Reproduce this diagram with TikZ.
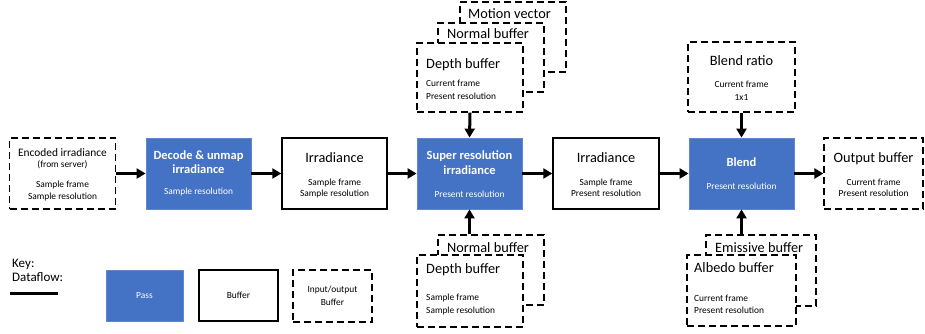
\documentclass[tikz,border=0pt]{standalone}
\usepackage{fontspec}
\setmainfont{Carlito}
\usetikzlibrary{arrows.meta,positioning}
\definecolor{passblue}{HTML}{4472C4}
\tikzset{
  box/.style={draw=black, line width=1.4pt, fill=white, inner sep=0pt},
  iobox/.style={draw=black, line width=1.3pt, dash pattern=on 7pt off 4pt, fill=white, inner sep=0pt},
  passbox/.style={draw=passblue!85!white, line width=0.8pt, fill=passblue, inner sep=0pt},
  flow/.style={line width=3pt, -{Triangle[length=9pt,width=10pt]}},
  ttl/.style={font=\fontsize{14.3}{16}\selectfont, inner sep=0pt, anchor=base},
  ttlsmall/.style={font=\fontsize{11.4}{13}\selectfont, inner sep=0pt, anchor=base},
  sml/.style={font=\fontsize{9.4}{11}\selectfont, inner sep=0pt, anchor=base, align=center},
  bld/.style={font=\fontsize{12.5}{14.5}\selectfont\bfseries, text=white, inner sep=0pt, anchor=base, align=center},
  wsml/.style={font=\fontsize{9.4}{11}\selectfont, text=white, inner sep=0pt, anchor=base},
}
\begin{document}
\begin{tikzpicture}[x=1pt,y=-1pt]
\useasboundingbox (0,0) rectangle (925,333);

% ---------- main row ----------
\node[iobox, minimum width=106pt, minimum height=71pt] (enc) at (62.5,173.5) {};
\node[ttlsmall] (encT) at (62.5,156) {Encoded irradiance};
\node[sml] (encF) at (62.5,167) {(from server)};
\node[sml] (encS1) at (62.5,187) {Sample frame};
\node[sml] (encS2) at (62.5,199) {Sample resolution};

\node[passbox, minimum width=105pt, minimum height=71pt] (dec) at (198.5,173.5) {};
\node[bld] (decT1) at (198.5,159) {Decode \& unmap};
\node[bld] (decT2) at (198.5,173.5) {irradiance};
\node[wsml] (decS) at (198.5,194) {Sample resolution};

\node[box, minimum width=105pt, minimum height=71pt] (irr1) at (334.5,173.5) {};
\node[ttl] (irr1T) at (334.5,162) {Irradiance};
\node[sml] (irr1S1) at (334.5,185) {Sample frame};
\node[sml] (irr1S2) at (334.5,196.5) {Sample resolution};

\node[passbox, minimum width=105pt, minimum height=71pt] (sr) at (469.5,173.5) {};
\node[bld] (srT1) at (469.5,159) {Super resolution};
\node[bld] (srT2) at (469.5,174) {irradiance};
\node[wsml] (srS) at (469.5,197) {Present resolution};

\node[box, minimum width=106pt, minimum height=71pt] (irr2) at (606,173.5) {};
\node[ttl] (irr2T) at (606,162) {Irradiance};
\node[sml] (irr2S1) at (606,185) {Sample frame};
\node[sml] (irr2S2) at (606,196.5) {Present resolution};

\node[passbox, minimum width=105pt, minimum height=71pt] (bl) at (741.5,173.5) {};
\node[bld] (blT) at (741.5,166) {Blend};
\node[wsml] (blS) at (741.5,189) {Present resolution};

\node[iobox, minimum width=99pt, minimum height=71pt] (out) at (873.5,173.5) {};
\node[ttl] (outT) at (873.5,162) {Output buffer};
\node[sml] (outS1) at (873.5,185) {Current frame};
\node[sml] (outS2) at (873.5,196.5) {Present resolution};

% ---------- top stack ----------
\node[iobox, minimum width=106pt, minimum height=70pt] (mv) at (513,37) {};
\node[ttl, anchor=base west] (mvT) at (468,18) {Motion vector};
\node[iobox, minimum width=106pt, minimum height=69pt] (nbt) at (491,57.5) {};
\node[ttl, anchor=base west] (nbtT) at (447,38) {Normal buffer};
\node[iobox, minimum width=106pt, minimum height=69pt] (dbt) at (470,77.5) {};
\node[ttl, anchor=base west] (dbtT) at (426,68) {Depth buffer};
\node[sml, anchor=base west] (dbtS1) at (426,86) {Current frame};
\node[sml, anchor=base west] (dbtS2) at (426,99) {Present resolution};

% ---------- bottom stack ----------
\node[iobox, minimum width=106pt, minimum height=70pt] (nbb) at (491,270) {};
\node[ttl, anchor=base west] (nbbT) at (447,252) {Normal buffer};
\node[iobox, minimum width=106pt, minimum height=72pt] (dbb) at (470,291) {};
\node[ttl, anchor=base west] (dbbT) at (426,273) {Depth buffer};
\node[sml, anchor=base west] (dbbS1) at (426,300) {Sample frame};
\node[sml, anchor=base west] (dbbS2) at (426,313) {Sample resolution};

% ---------- blend inputs ----------
\node[iobox, minimum width=107pt, minimum height=70pt] (br) at (741.5,77) {};
\node[ttl] (brT) at (741.5,65) {Blend ratio};
\node[sml] (brS1) at (741.5,87) {Current frame};
\node[sml] (brS2) at (741.5,100) {1x1};

\node[iobox, minimum width=110pt, minimum height=71pt] (em) at (761,270.5) {};
\node[ttl, anchor=base west] (emT) at (715,252) {Emissive buffer};
\node[iobox, minimum width=109pt, minimum height=71pt] (al) at (741.5,290.5) {};
\node[ttl, anchor=base west] (alT) at (694,272) {Albedo buffer};
\node[sml, anchor=base west] (alS1) at (694,301) {Current frame};
\node[sml, anchor=base west] (alS2) at (694,313) {Present resolution};

% ---------- connectors ----------
\draw[flow] (enc.east) -- (dec.west);
\draw[flow] (dec.east) -- (irr1.west);
\draw[flow] (irr1.east) -- (sr.west);
\draw[flow] (sr.east) -- (irr2.west);
\draw[flow] (irr2.east) -- (bl.west);
\draw[flow] (bl.east) -- (out.west);
\draw[flow] (dbt.south) -- (sr.north);
\draw[flow] (nbb.north -| sr.south) -- (sr.south);
\draw[flow] (br.south) -- (bl.north);
\draw[flow] (em.north -| bl.south) -- (bl.south);

% ---------- key ----------
\node[font=\fontsize{13}{15}\selectfont, inner sep=0pt, anchor=base west] (key1) at (12,267) {Key:};
\node[font=\fontsize{13}{15}\selectfont, inner sep=0pt, anchor=base west] (key2) at (12,281) {Dataflow:};
\coordinate (kl1) at (10,293);
\coordinate (kl2) at (58,293);
\draw[line width=3pt] (kl1) -- (kl2);
\node[passbox, minimum width=77pt, minimum height=51pt, font=\fontsize{9.4}{11}\selectfont, text=white] (kpass) at (144.5,295.5) {Pass};
\node[box, minimum width=79pt, minimum height=51pt, font=\fontsize{9.4}{11}\selectfont] (kbuf) at (238.5,295.5) {Buffer};
\node[iobox, minimum width=79pt, minimum height=52pt, font=\fontsize{9.4}{12.5}\selectfont, align=center] (kio) at (332.5,296) {Input/output\\Buffer};
\end{tikzpicture}
\end{document}
